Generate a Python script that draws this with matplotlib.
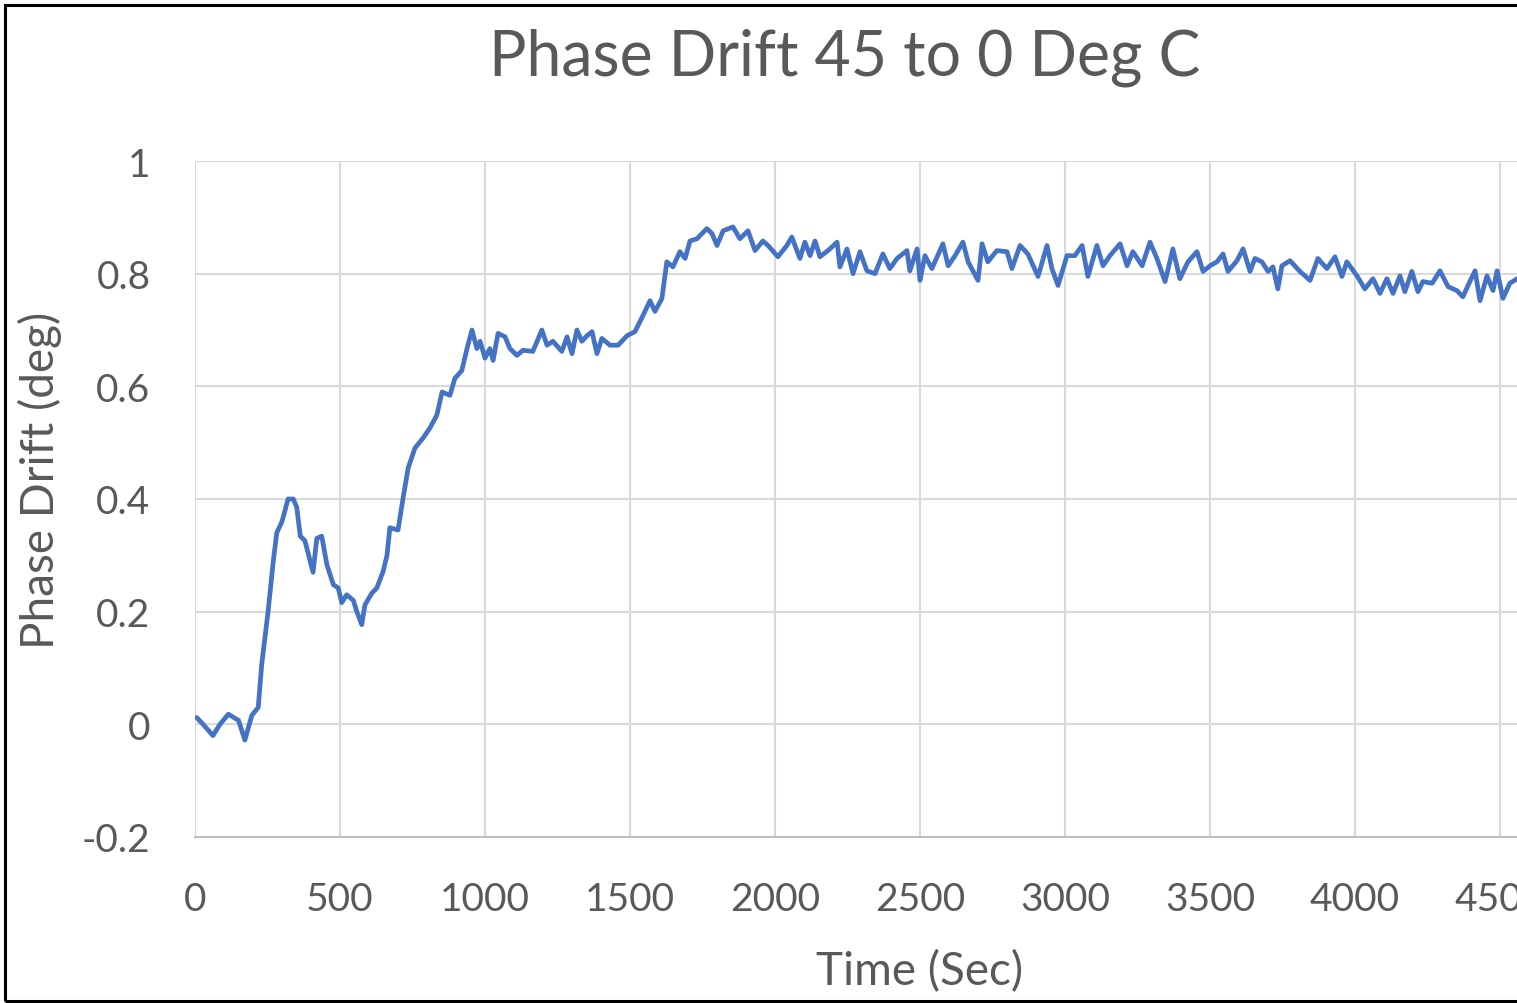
import matplotlib.pyplot as plt
from matplotlib.patches import Rectangle

plt.rcParams['font.family'] = ['Lato', 'DejaVu Sans']

# time (s) and phase drift (deg)
time_s: list[int] = [
    6, 28, 62, 86, 115, 150, 172, 196, 218, 230, 252, 270, 282, 300, 321, 339,
    351, 363, 379, 407, 420, 437, 455, 477, 494, 506, 523, 546, 558, 575, 586,
    610, 627, 649, 662, 672, 700, 717, 735, 758, 786, 810, 834, 852, 879, 896,
    920, 938, 955, 972, 983, 1000, 1017, 1028, 1045, 1069, 1086, 1110, 1131,
    1165, 1196, 1214, 1234, 1265, 1283, 1300, 1317, 1334, 1352, 1369, 1386,
    1403, 1431, 1459, 1490, 1517, 1545, 1569, 1586, 1610, 1627, 1648, 1672,
    1690, 1707, 1731, 1765, 1783, 1800, 1821, 1855, 1879, 1907, 1931, 1958,
    1976, 2010, 2041, 2058, 2086, 2103, 2121, 2138, 2155, 2183, 2214, 2224,
    2248, 2269, 2293, 2317, 2345, 2372, 2396, 2421, 2455, 2465, 2490, 2500,
    2517, 2541, 2579, 2597, 2621, 2648, 2666, 2700, 2714, 2734, 2765, 2800,
    2817, 2845, 2872, 2907, 2938, 2955, 2976, 3007, 3034, 3059, 3079, 3110,
    3131, 3155, 3190, 3214, 3234, 3266, 3293, 3317, 3345, 3372, 3396, 3424,
    3455, 3476, 3500, 3524, 3545, 3562, 3593, 3614, 3638, 3655, 3679, 3700,
    3717, 3734, 3748, 3776, 3810, 3845, 3872, 3903, 3931, 3955, 3972, 4007,
    4034, 4062, 4086, 4110, 4131, 4155, 4172, 4196, 4217, 4234, 4266, 4293,
    4321, 4351, 4372, 4396, 4414, 4431, 4455, 4476, 4490, 4510, 4534, 4559,
    4590,
]
drift_deg: list[float] = [
    0.012, 0.0, -0.02, 0.0, 0.018, 0.007, -0.028, 0.016, 0.03, 0.106, 0.20,
    0.29, 0.34, 0.36, 0.40, 0.40, 0.385, 0.334, 0.326, 0.27, 0.33, 0.334,
    0.283, 0.248, 0.242, 0.216, 0.23, 0.22, 0.20, 0.177, 0.212, 0.233, 0.242,
    0.272, 0.30, 0.349, 0.345, 0.40, 0.455, 0.49, 0.508, 0.526, 0.549, 0.59,
    0.584, 0.614, 0.628, 0.667, 0.70, 0.667, 0.68, 0.65, 0.667, 0.646, 0.694,
    0.688, 0.667, 0.655, 0.664, 0.662, 0.70, 0.673, 0.68, 0.662, 0.688, 0.658,
    0.70, 0.68, 0.69, 0.697, 0.658, 0.685, 0.673, 0.673, 0.69, 0.697, 0.726,
    0.752, 0.733, 0.756, 0.821, 0.812, 0.839, 0.827, 0.858, 0.862, 0.88,
    0.871, 0.85, 0.876, 0.883, 0.862, 0.876, 0.841, 0.858, 0.85, 0.83, 0.85,
    0.865, 0.827, 0.856, 0.832, 0.858, 0.83, 0.841, 0.856, 0.812, 0.844, 0.80,
    0.839, 0.805, 0.80, 0.835, 0.809, 0.827, 0.841, 0.805, 0.844, 0.788,
    0.832, 0.809, 0.853, 0.814, 0.832, 0.856, 0.821, 0.788, 0.853, 0.821,
    0.841, 0.839, 0.809, 0.85, 0.835, 0.795, 0.85, 0.809, 0.779, 0.832, 0.832,
    0.85, 0.795, 0.85, 0.814, 0.832, 0.853, 0.814, 0.839, 0.814, 0.856, 0.827,
    0.786, 0.844, 0.791, 0.821, 0.839, 0.804, 0.814, 0.821, 0.835, 0.804,
    0.823, 0.844, 0.804, 0.827, 0.821, 0.804, 0.812, 0.773, 0.814, 0.823,
    0.804, 0.788, 0.827, 0.809, 0.83, 0.795, 0.821, 0.796, 0.773, 0.791,
    0.765, 0.791, 0.765, 0.796, 0.768, 0.804, 0.768, 0.786, 0.783, 0.805,
    0.777, 0.77, 0.759, 0.786, 0.805, 0.752, 0.796, 0.77, 0.805, 0.756, 0.783,
    0.791, 0.78,
]
x_ticks: list[int] = list(range(0, 5001, 500))
y_ticks: list[float] = [-0.2, 0, 0.2, 0.4, 0.6, 0.8, 1]
y_labels: list[str] = ['-0.2', '0', '0.2', '0.4', '0.6', '0.8', '1']

TEXT = '#595959'


def generate_plot() -> None:
    fig = plt.figure(figsize=(15.17, 10.04), dpi=100)
    # plot area runs past the right edge, as in the cropped original
    ax = fig.add_axes((195 / 1517, 166 / 1004, 1450 / 1517, 676 / 1004))
    ax.plot(time_s, drift_deg, color='#4472C4', linewidth=3.4,
            solid_joinstyle='round', solid_capstyle='round')

    ax.set_xlim(0, 5000)
    ax.set_ylim(-0.2, 1)
    ax.set_xticks(x_ticks)
    ax.set_yticks(y_ticks, y_labels)
    ax.grid(True, color='#D9D9D9', linewidth=1.5)
    ax.set_axisbelow(True)
    for side in ('top', 'right', 'left'):
        ax.spines[side].set_visible(False)
    ax.spines['bottom'].set_color('#BFBFBF')
    ax.spines['bottom'].set_linewidth(1.5)
    ax.tick_params(length=0, labelsize=28, labelcolor=TEXT)
    ax.tick_params(axis='x', pad=32)
    ax.tick_params(axis='y', pad=32)

    fig.text(845 / 1517, 1 - 58 / 1004, 'Phase Drift 45 to 0 Deg C',
             ha='center', va='center', fontsize=45, color=TEXT)
    fig.text(920 / 1517, 1 - 972 / 1004, 'Time (Sec)',
             ha='center', va='center', fontsize=33, color=TEXT)
    fig.text(40 / 1517, 1 - 480 / 1004, 'Phase Drift (deg)', rotation=90,
             ha='center', va='center', fontsize=33, color=TEXT)

    fig.patches.append(Rectangle((5 / 1517, 2 / 1004), 1.1, 1 - 8 / 1004,
                                 transform=fig.transFigure, fill=False,
                                 edgecolor='black', linewidth=2.2))

    fig.savefig('out.png', dpi=100)


if __name__ == '__main__':
    generate_plot()
